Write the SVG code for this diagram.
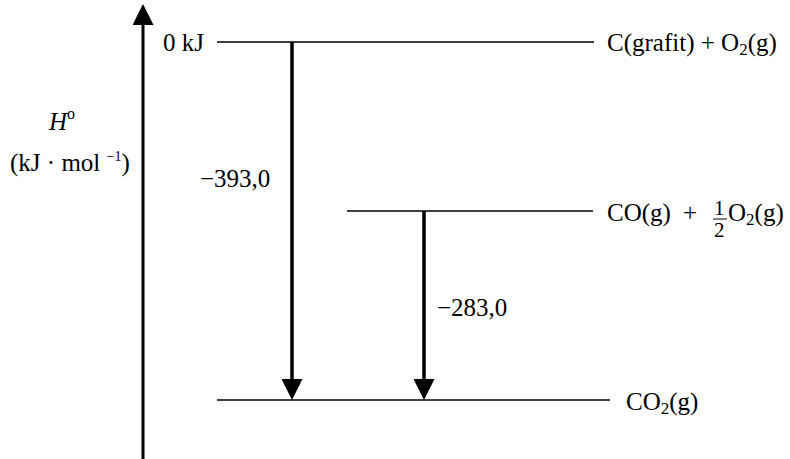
<svg xmlns="http://www.w3.org/2000/svg" width="790" height="459" viewBox="0 0 790 459">
<style>
text{font-family:"Liberation Serif","Times New Roman",serif;font-size:25px;fill:#000}
.lvl{stroke:#000;stroke-width:1.6;fill:none}
.arr{stroke:#000;stroke-width:3.5;fill:none}
.sub{font-size:17px}
.frac{font-size:21px}
</style>
<defs>
<marker id="head" viewBox="0 0 21 21" refX="0" refY="10.5" markerWidth="21" markerHeight="21" markerUnits="userSpaceOnUse" orient="auto">
<path d="M0,0 L21,10.5 L0,21 Z" fill="#000"/>
</marker>
</defs>
<rect width="790" height="459" fill="#fff"/>

<g id="axis">
<line x1="143" y1="459" x2="143" y2="25" stroke="#000" stroke-width="3" marker-end="url(#head)"/>
<text x="49" y="130"><tspan font-style="italic">H</tspan><tspan font-size="16" dy="-11">o</tspan></text>
<text x="10" y="171">(kJ · mol <tspan font-size="14" dy="-10">−1</tspan><tspan dy="10">)</tspan></text>
</g>

<g id="level-reactants">
<line class="lvl" x1="217" y1="42" x2="594" y2="42"/>
<text x="163" y="51">0 kJ</text>
<text x="607" y="51">C(grafit) + O<tspan class="sub" dy="4">2</tspan><tspan dy="-4">(g)</tspan></text>
</g>

<g id="level-intermediate">
<line class="lvl" x1="347" y1="211" x2="593" y2="211"/>
<text x="607" y="221">CO(g)</text>
<text x="683" y="221">+</text>
<text class="frac" x="714" y="215">1</text>
<line x1="713" y1="219" x2="727" y2="219" stroke="#000" stroke-width="1"/>
<text class="frac" x="714" y="237">2</text>
<text x="728" y="221">O<tspan class="sub" dy="4">2</tspan><tspan dy="-4">(g)</tspan></text>
</g>

<g id="level-product">
<line class="lvl" x1="217" y1="400" x2="610" y2="400"/>
<text x="626" y="410">CO<tspan class="sub" dy="4">2</tspan><tspan dy="-4">(g)</tspan></text>
</g>

<g id="connectors">
<line class="arr" x1="292" y1="42" x2="292" y2="379" marker-end="url(#head)"/>
<line class="arr" x1="424" y1="211" x2="424" y2="379" marker-end="url(#head)"/>
<text x="200" y="187">−393,0</text>
<text x="437" y="316">−283,0</text>
</g>
</svg>
